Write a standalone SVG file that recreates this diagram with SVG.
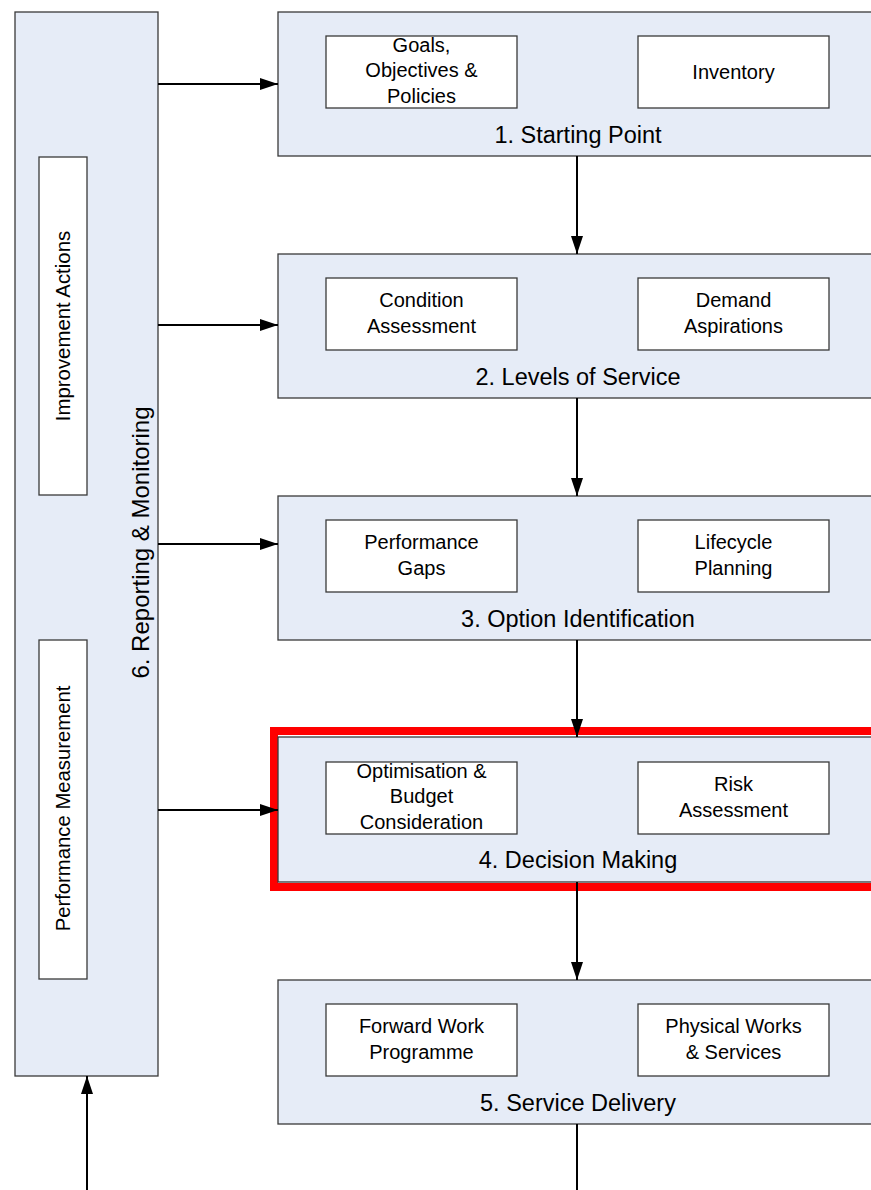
<svg xmlns="http://www.w3.org/2000/svg" width="871" height="1190" viewBox="0 0 871 1190">
<style>
.stage{fill:#e6ecf7;stroke:#3a3a3a;stroke-width:1.3}
.item{fill:#ffffff;stroke:#3a3a3a;stroke-width:1.3}
.t{font-family:"Liberation Sans",Arial,sans-serif;font-size:20px;fill:#000;text-anchor:middle}
.title{font-family:"Liberation Sans",Arial,sans-serif;font-size:23.5px;fill:#000;text-anchor:middle}
.conn{stroke:#000;stroke-width:2;fill:none}
</style>
<defs>
<marker id="ah" markerWidth="18" markerHeight="12" refX="18" refY="6" orient="auto" markerUnits="userSpaceOnUse">
<path d="M0,0 L18,6 L0,12 Z" fill="#000"/>
</marker>
</defs>
<rect width="871" height="1190" fill="#fff"/>

<g id="node6">
<rect class="stage" x="15" y="12" width="143" height="1064"/>
<text class="title" style="font-size:24px" transform="translate(149,542.5) rotate(-90)">6. Reporting &amp; Monitoring</text>
</g>
<g id="improvement">
<rect class="item" x="39" y="157" width="48" height="338"/>
<text class="t" style="font-size:20.4px" transform="translate(69.5,326) rotate(-90)">Improvement Actions</text>
</g>
<g id="performance">
<rect class="item" x="39" y="640" width="48" height="339"/>
<text class="t" style="font-size:20.3px" transform="translate(69.5,808.5) rotate(-90)">Performance Measurement</text>
</g>

<g id="node1">
<rect class="stage" x="278" y="12" width="600" height="144"/>
<rect class="item" x="326" y="36" width="191" height="72"/>
<text class="t" x="421.5" y="51.5">Goals,</text>
<text class="t" x="421.5" y="77">Objectives &amp;</text>
<text class="t" x="421.5" y="102.5">Policies</text>
<rect class="item" x="638" y="36" width="191" height="72"/>
<text class="t" x="733.5" y="79">Inventory</text>
<text class="title" x="578" y="143">1. Starting Point</text>
</g>

<g id="node2">
<rect class="stage" x="278" y="254" width="600" height="144"/>
<rect class="item" x="326" y="278" width="191" height="72"/>
<text class="t" x="421.5" y="307">Condition</text>
<text class="t" x="421.5" y="333">Assessment</text>
<rect class="item" x="638" y="278" width="191" height="72"/>
<text class="t" x="733.5" y="307">Demand</text>
<text class="t" x="733.5" y="333">Aspirations</text>
<text class="title" x="578" y="385">2. Levels of Service</text>
</g>

<g id="node3">
<rect class="stage" x="278" y="496" width="600" height="144"/>
<rect class="item" x="326" y="520" width="191" height="72"/>
<text class="t" x="421.5" y="549">Performance</text>
<text class="t" x="421.5" y="575">Gaps</text>
<rect class="item" x="638" y="520" width="191" height="72"/>
<text class="t" x="733.5" y="549">Lifecycle</text>
<text class="t" x="733.5" y="575">Planning</text>
<text class="title" x="578" y="627">3. Option Identification</text>
</g>

<g id="node4">
<rect x="274" y="731" width="610" height="156" fill="none" stroke="#ff0000" stroke-width="8"/>
<rect class="stage" x="278" y="737" width="600" height="145"/>
<rect class="item" x="326" y="762" width="191" height="72"/>
<text class="t" x="421.5" y="777.5">Optimisation &amp;</text>
<text class="t" x="421.5" y="803">Budget</text>
<text class="t" x="421.5" y="828.5">Consideration</text>
<rect class="item" x="638" y="762" width="191" height="72"/>
<text class="t" x="733.5" y="791">Risk</text>
<text class="t" x="733.5" y="817">Assessment</text>
<text class="title" x="578" y="868">4. Decision Making</text>
</g>

<g id="node5">
<rect class="stage" x="278" y="980" width="600" height="144"/>
<rect class="item" x="326" y="1004" width="191" height="72"/>
<text class="t" x="421.5" y="1033">Forward Work</text>
<text class="t" x="421.5" y="1059">Programme</text>
<rect class="item" x="638" y="1004" width="191" height="72"/>
<text class="t" x="733.5" y="1033">Physical Works</text>
<text class="t" x="733.5" y="1059">&amp; Services</text>
<text class="title" x="578" y="1111">5. Service Delivery</text>
</g>

<g id="connectors">
<line class="conn" x1="158" y1="84" x2="278" y2="84" marker-end="url(#ah)"/>
<line class="conn" x1="158" y1="325" x2="278" y2="325" marker-end="url(#ah)"/>
<line class="conn" x1="158" y1="544" x2="278" y2="544" marker-end="url(#ah)"/>
<line class="conn" x1="158" y1="810" x2="278" y2="810" marker-end="url(#ah)"/>
<line class="conn" x1="577" y1="156" x2="577" y2="254" marker-end="url(#ah)"/>
<line class="conn" x1="577" y1="398" x2="577" y2="496" marker-end="url(#ah)"/>
<line class="conn" x1="577" y1="640" x2="577" y2="737" marker-end="url(#ah)"/>
<line class="conn" x1="577" y1="882" x2="577" y2="980" marker-end="url(#ah)"/>
<line class="conn" x1="577" y1="1124" x2="577" y2="1190"/>
<line class="conn" x1="87" y1="1190" x2="87" y2="1076" marker-end="url(#ah)"/>
</g>
</svg>
